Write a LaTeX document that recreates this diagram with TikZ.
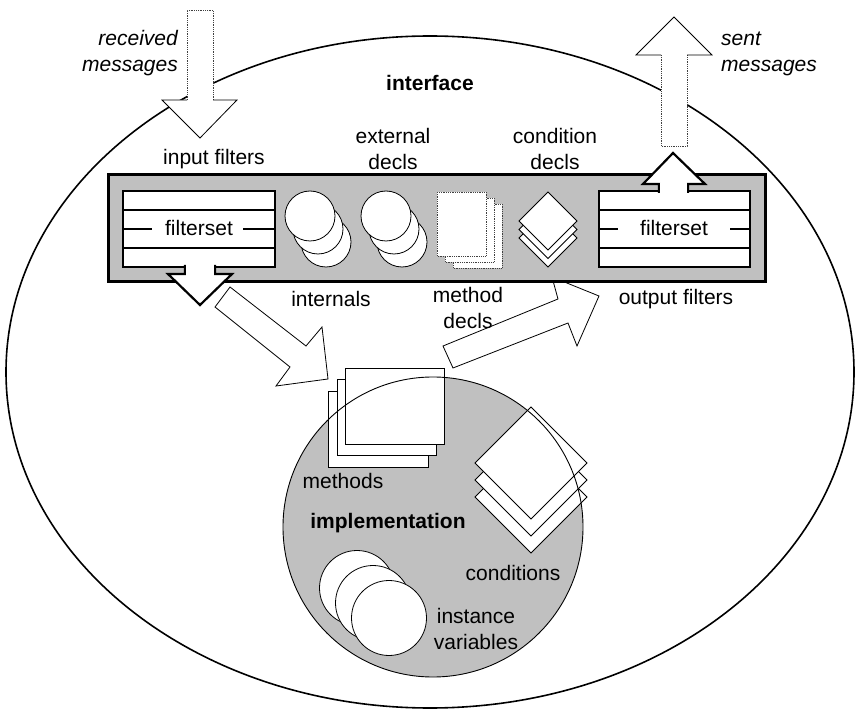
\documentclass[tikz,border=0pt]{standalone}
\usepackage{fontspec}
\setmainfont{Liberation Sans}
\definecolor{panel}{HTML}{C0C0C0}
\begin{document}
\begin{tikzpicture}[x=1pt,y=-1pt,
  lbl/.style={font=\fontsize{21}{26}\selectfont, inner sep=0pt, anchor=base, align=center},
  lblb/.style={lbl, font=\fontsize{21}{26}\selectfont\bfseries},
  lbli/.style={lbl, font=\fontsize{21}{26}\selectfont\itshape},
  thinline/.style={draw=black, line width=0.8pt},
  dotline/.style={draw=black!75, line width=0.8pt, densely dotted},
  boldbox/.style={draw=black, line width=2.5pt},
  bigarrow/.style={thinline, fill=white, line join=miter},
  smallarrow/.style={draw=black, line width=2.2pt, fill=white, line join=miter},
  disc/.style={thinline, fill=white}
]
\useasboundingbox (0,0) rectangle (855,711);

% outer object ellipse
\draw[line width=1.6pt] (430,372) ellipse[x radius=424pt, y radius=336pt];

% implementation circle (fill)
\fill[panel] (433,527) circle[radius=150pt];
% methods pages
\draw[thinline, fill=white] (328,391) rectangle (428,467);
\draw[thinline, fill=white] (337,379) rectangle (436,455);
\draw[thinline, fill=white] (345,368) rectangle (444,444);
% conditions diamonds
\foreach \yy in {497,480,463}
  \draw[thinline, fill=white] (531,\yy-56) -- (587,\yy) -- (531,\yy+56) -- (475,\yy) -- cycle;
% instance variables
\draw[disc] (357,588) circle[radius=37.5pt];
\draw[disc] (373,603) circle[radius=37.5pt];
\draw[disc] (389,618) circle[radius=37.5pt];
% implementation circle outline
\draw[line width=0.9pt] (433,527) circle[radius=150pt];

% big arrows
\draw[bigarrow] (230,287) -- (306,346) -- (322,327) -- (328,379) -- (276,386) -- (290,367) -- (215,307) -- cycle;
\draw[bigarrow] (443,346) -- (558,299) -- (552,277) -- (599,296) -- (577,346) -- (568,323) -- (453,368) -- cycle;

% interface bar
\draw[draw=black, line width=3pt, fill=panel] (108,175) rectangle (765,282);

% input filterset
\draw[boldbox, fill=white] (123,191) rectangle (275,267);
\draw[line width=1.2pt] (123,210) -- (275,210) (123,248) -- (275,248)
  (123,229) -- (152,229) (243,229) -- (275,229);
% output filterset
\draw[boldbox, fill=white] (599,191) rectangle (750,267);
\draw[line width=1.2pt] (599,210) -- (750,210) (599,248) -- (750,248)
  (599,229) -- (618,229) (730,229) -- (750,229);

% internals
\foreach \cx in {310,386}{
  \draw[disc] (\cx+16,242) circle[radius=25pt];
  \draw[disc] (\cx+8,229) circle[radius=25pt];
  \draw[disc] (\cx,216) circle[radius=25pt];
}
% method decls pages
\draw[dotline, fill=white] (453,204) rectangle (502,268);
\draw[dotline, fill=white] (445,198) rectangle (494,262);
\draw[dotline, fill=white] (437,192) rectangle (486,256);
% condition decls diamonds
\foreach \yy in {238,229.5,221}
  \draw[thinline, fill=white] (548,\yy-29) -- (577,\yy) -- (548,\yy+29) -- (519,\yy) -- cycle;

% small arrows
\draw[smallarrow] (185,265) -- (185,274) -- (168,274) -- (200,305) -- (232,274) -- (215,274) -- (215,265);
\fill[white] (186.2,264) rectangle (213.8,276);
\draw[smallarrow] (659,193) -- (659,184) -- (643,184) -- (673,153) -- (705,184) -- (688,184) -- (688,193);
\fill[white] (660.2,183) rectangle (686.8,194);

% received / sent messages arrows
\fill[white] (187,10) -- (187,100) -- (162,100) -- (200,138) -- (237,100) -- (213,100) -- (213,10) -- cycle;
\draw[dotline] (187,100) -- (187,10) -- (213,10) -- (213,100);
\draw[thinline, line join=miter] (187,100) -- (162,100) -- (200,138) -- (237,100) -- (213,100);
\fill[white] (661,146) -- (661,55) -- (636,55) -- (674,17) -- (712,55) -- (687,55) -- (687,146) -- cycle;
\draw[dotline] (661,55) -- (661,146) -- (687,146) -- (687,55);
\draw[thinline, line join=miter] (661,55) -- (636,55) -- (674,17) -- (712,55) -- (687,55);

% labels (base anchor of multi-line nodes = last line)
\node[lbli, anchor=base east, align=right] (recv) at (178,72) {received\\messages};
\node[lbli, anchor=base west, align=left] (sent) at (721,72) {sent\\messages};
\node[lblb] (iface) at (430,91) {interface};
\node[lbl] (infilt) at (214,165) {input filters};
\node[lbl] (ext) at (393,170) {external\\decls};
\node[lbl] (cond) at (555,170) {condition\\decls};
\node[lbl] (fsin) at (199,236) {filterset};
\node[lbl] (fsout) at (674,236) {filterset};
\node[lbl] (intern) at (331,307) {internals};
\node[lbl] (mdecl) at (468,329) {method\\decls};
\node[lbl] (outfilt) at (676,305) {output filters};
\node[lbl] (meth) at (343,489) {methods};
\node[lblb] (impl) at (388,529) {implementation};
\node[lbl] (conds) at (513,580) {conditions};
\node[lbl] (ivars) at (476,649) {instance\\variables};
\end{tikzpicture}
\end{document}
